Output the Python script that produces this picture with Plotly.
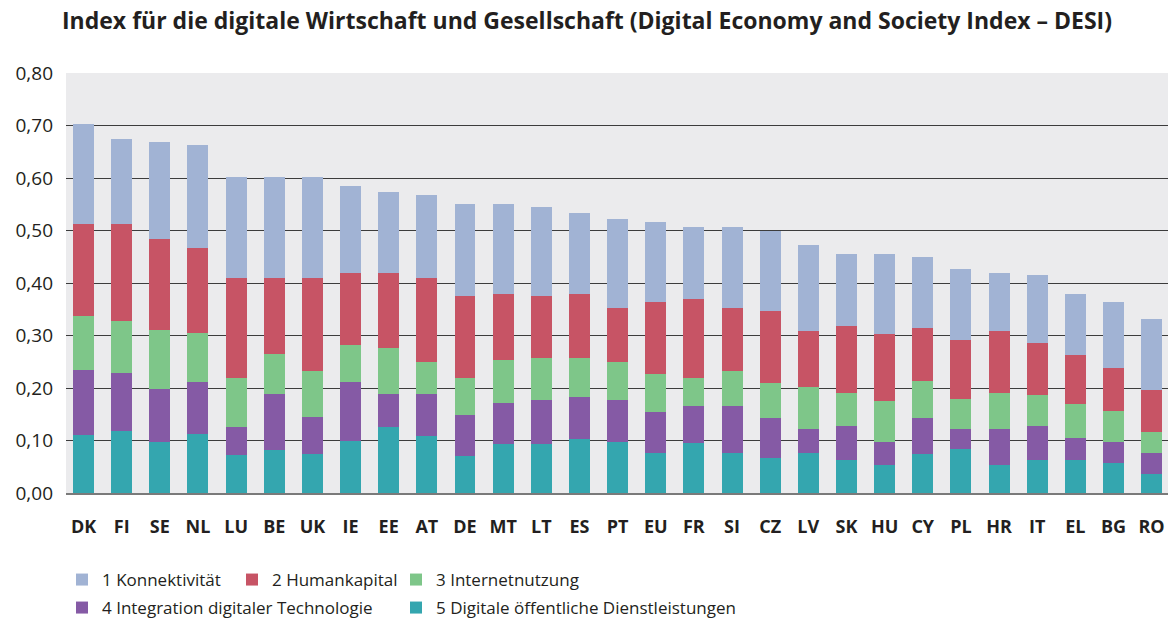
import plotly.graph_objects as go

countries = ["DK", "FI", "SE", "NL", "LU", "BE", "UK", "IE", "EE", "AT", "DE", "MT", "LT", "ES", "PT",
             "EU", "FR", "SI", "CZ", "LV", "SK", "HU", "CY", "PL", "HR", "IT", "EL", "BG", "RO"]

dienstleistungen = [.110, .119, .098, .112, .072, .081, .074, .100, .125, .108, .070, .093, .093, .102, .098,
                    .077, .095, .076, .066, .076, .062, .053, .074, .083, .053, .062, .062, .058, .037]
integration = [.124, .109, .101, .099, .053, .107, .070, .111, .063, .080, .078, .078, .084, .080, .079,
               .077, .070, .089, .076, .045, .065, .045, .068, .038, .068, .065, .042, .040, .039]
internetnutzung = [.104, .099, .111, .093, .095, .076, .088, .070, .088, .061, .072, .082, .081, .076, .072,
                   .072, .055, .067, .067, .080, .063, .077, .071, .059, .069, .059, .065, .059, .041]
humankapital = [.174, .185, .173, .162, .189, .145, .177, .139, .144, .160, .155, .127, .117, .122, .103,
                .137, .149, .120, .137, .107, .129, .127, .101, .111, .118, .099, .093, .082, .079]
konnektivitaet = [.190, .162, .185, .196, .192, .192, .192, .164, .153, .158, .175, .170, .169, .153, .169,
                  .153, .137, .154, .154, .164, .136, .153, .135, .135, .112, .130, .118, .124, .135]

series_names = ["5 Digitale öffentliche Dienstleistungen", "4 Integration digitaler Technologie",
                "3 Internetnutzung", "2 Humankapital", "1 Konnektivität"]
series_values = [dienstleistungen, integration, internetnutzung, humankapital, konnektivitaet]
series_colors = ["#34A6AF", "#855AA5", "#7EC689", "#C75465", "#A1B3D4"]
series_legends = ["legend6", "legend5", "legend4", "legend3", "legend2"]

y_ticks = [0, 0.1, 0.2, 0.3, 0.4, 0.5, 0.6, 0.7, 0.8]

fig = go.Figure()
for name, vals, color, lg in zip(series_names, series_values, series_colors, series_legends):
    fig.add_trace(go.Bar(x=countries, y=vals, name=name, marker=dict(color=color, line=dict(width=0)),
                         legend=lg))

W, H = 1168, 620
ml, mr, mt, mb = 66, 0, 73, 127

text_color = "#231F20"
legend_font = dict(family="Open Sans", size=17, color=text_color)


def legend_at(xpx, ypx):
    return dict(orientation="h", xref="container", yref="container",
                x=xpx / W, xanchor="left", y=1 - ypx / H, yanchor="middle",
                font=legend_font, bgcolor="rgba(0,0,0,0)")


fig.update_layout(
    width=W, height=H,
    margin=dict(l=ml, r=mr, t=mt, b=mb, pad=0, autoexpand=False),
    paper_bgcolor="white",
    plot_bgcolor="#EBEBED",
    barmode="stack",
    bargap=0.45,
    separators=", ",
    showlegend=True,
    font=dict(family="Open Sans", color=text_color),
    title=dict(text="Index für die digitale Wirtschaft und Gesellschaft (Digital Economy and Society Index – DESI)",
               xref="container", x=62 / W, xanchor="left",
               yref="container", y=1 - 21 / H, yanchor="middle",
               font=dict(family="Open Sans", size=23, weight="bold", color=text_color)),
    xaxis=dict(range=[-0.46, 28.43], showgrid=False, showline=True, linecolor="#7a7a7a", linewidth=1.5,
               ticks="", tickfont=dict(family="Open Sans", size=18, weight="bold", color=text_color),
               ticklabelstandoff=17, fixedrange=True),
    yaxis=dict(range=[0, 0.8], tickvals=y_ticks, tickformat=".2f", showgrid=True, gridcolor="#3c3c3c",
               gridwidth=1.2, zeroline=False, showline=False, ticks="",
               tickfont=dict(family="Open Sans", size=19, color=text_color),
               ticklabelstandoff=12, fixedrange=True),
    legend2=legend_at(62, 580),
    legend3=legend_at(232, 580),
    legend4=legend_at(396, 580),
    legend5=legend_at(62, 608),
    legend6=legend_at(396, 608),
)

fig.write_html("out.html", config={"displayModeBar": False},
               post_script="document.body.style.margin='0';")
